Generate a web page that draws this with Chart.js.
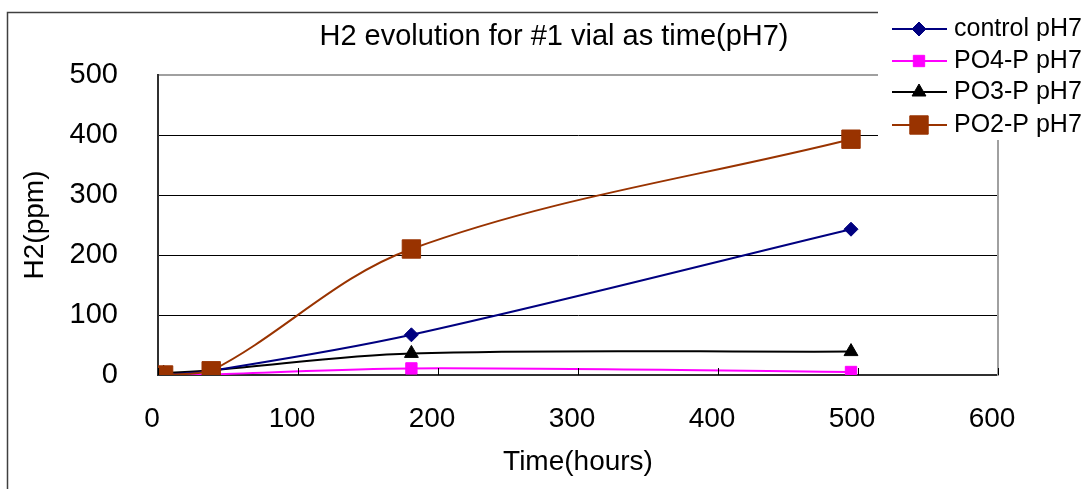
<!DOCTYPE html>
<html><head><meta charset="utf-8">
<script src="https://cdn.jsdelivr.net/npm/chart.js@4/dist/chart.umd.min.js"></script>
<style>html,body{margin:0;padding:0;background:#fff;overflow:hidden}</style>
</head><body>
<canvas id="c" width="1083" height="489"></canvas>
<script>
const titleText = 'H2 evolution for #1 vial as time(pH7)';
const xAxisTitle = 'Time(hours)';
const yAxisTitle = 'H2(ppm)';
const seriesNames = ['control pH7', 'PO4-P pH7', 'PO3-P pH7', 'PO2-P pH7'];
const hours = [4, 38, 181, 495];
const controlPH7 = [0, 7, 67, 243];
const po4PH7 = [0, 1, 11, 5];
const po3PH7 = [3, 8, 36, 39];
const po2PH7 = [0, 7, 210, 393];
const xTickValues = [0, 100, 200, 300, 400, 500, 600];
const yTickValues = [0, 100, 200, 300, 400, 500];

const FONT = "'Liberation Sans', Arial, sans-serif";
const toPts = vals => hours.map((h, i) => ({x: h, y: vals[i]}));

function ds(label, vals, color, style, radius, order) {
  return {
    label, data: toPts(vals), showLine: true,
    borderColor: color, backgroundColor: color, borderWidth: 2,
    pointStyle: style, pointRadius: radius, pointBorderWidth: 1,
    pointBackgroundColor: color, pointBorderColor: color,
    tension: 0.35, order
  };
}

const decor = {
  id: 'decor',
  afterDraw(chart) {
    const ctx = chart.ctx, a = chart.chartArea, xs = chart.scales.x;
    ctx.save();
    // right plot border
    ctx.strokeStyle = '#a0a0a0'; ctx.lineWidth = 2;
    ctx.beginPath(); ctx.moveTo(a.right, a.top); ctx.lineTo(a.right, a.bottom + 1); ctx.stroke();
    // inner x tick marks
    ctx.strokeStyle = '#000'; ctx.lineWidth = 1;
    xTickValues.forEach(v => {
      const px = Math.round(xs.getPixelForValue(v)) + 0.5;
      ctx.beginPath(); ctx.moveTo(px, a.bottom); ctx.lineTo(px, a.bottom - 7); ctx.stroke();
    });
    // outer frame
    ctx.strokeStyle = '#404040'; ctx.lineWidth = 1.5;
    ctx.strokeRect(7.5, 12.5, 2000, 2000);
    // title
    ctx.fillStyle = '#000'; ctx.font = '29px ' + FONT;
    ctx.textAlign = 'center'; ctx.textBaseline = 'middle';
    ctx.fillText(titleText, 554, 37);
    // legend box
    ctx.fillStyle = '#fff'; ctx.fillRect(878, 0, 205, 140);
    const rows = [29, 61, 92, 125];
    chart.data.datasets.forEach((d, i) => {
      const y = rows[i];
      ctx.strokeStyle = d.borderColor; ctx.lineWidth = 2;
      ctx.beginPath(); ctx.moveTo(892, y); ctx.lineTo(947, y); ctx.stroke();
      ctx.fillStyle = d.backgroundColor; ctx.strokeStyle = d.borderColor; ctx.lineWidth = 1;
      Chart.helpers.drawPoint(ctx, {pointStyle: d.pointStyle, radius: d.pointRadius, rotation: 0, borderWidth: 1}, 919, y);
      ctx.fillStyle = '#000'; ctx.font = '25px ' + FONT;
      ctx.textAlign = 'left'; ctx.textBaseline = 'middle';
      ctx.fillText(d.label, 954, y);
    });
    ctx.restore();
  }
};

new Chart(document.getElementById('c'), {
  type: 'scatter',
  data: {
    datasets: [
      ds(seriesNames[0], controlPH7, '#000080', 'rectRot', 7, 1),
      ds(seriesNames[1], po4PH7, '#FF00FF', 'rect', 8, 3),
      ds(seriesNames[2], po3PH7, '#000000', 'triangle', 8, 2),
      ds(seriesNames[3], po2PH7, '#993300', 'rect', 13, 0)
    ]
  },
  options: {
    responsive: false, animation: false, devicePixelRatio: 1,
    layout: {padding: {top: 75, right: 85, left: 0, bottom: 0}},
    plugins: {legend: {display: false}, title: {display: false}, tooltip: {enabled: false}},
    scales: {
      x: {
        type: 'linear', min: 0, max: 600,
        afterBuildTicks: s => { s.ticks = xTickValues.map(v => ({value: v})); },
        afterFit: s => { s.height = 114; },
        ticks: {color: '#000', font: {family: FONT, size: 28}, padding: 19, labelOffset: -6, maxRotation: 0},
        grid: {display: false},
        border: {display: true, color: '#303030', width: 2},
        title: {display: true, text: xAxisTitle, color: '#000', font: {family: FONT, size: 28}, padding: {top: 0, bottom: 10}}
      },
      y: {
        min: 0, max: 500,
        afterBuildTicks: s => { s.ticks = yTickValues.map(v => ({value: v})); },
        afterFit: s => { s.width = 158; },
        ticks: {color: '#000', font: {family: FONT, size: 29}, padding: 40},
        grid: {
          drawTicks: false,
          color: c => (c.tick && c.tick.value === 500) ? '#a0a0a0' : '#000',
          lineWidth: c => (c.tick && c.tick.value === 500) ? 2 : 1
        },
        border: {display: true, color: '#303030', width: 2},
        title: {display: true, text: yAxisTitle, color: '#000', font: {family: FONT, size: 28}, padding: {top: 18, bottom: 0}}
      }
    }
  },
  plugins: [decor]
});
</script>
</body></html>
